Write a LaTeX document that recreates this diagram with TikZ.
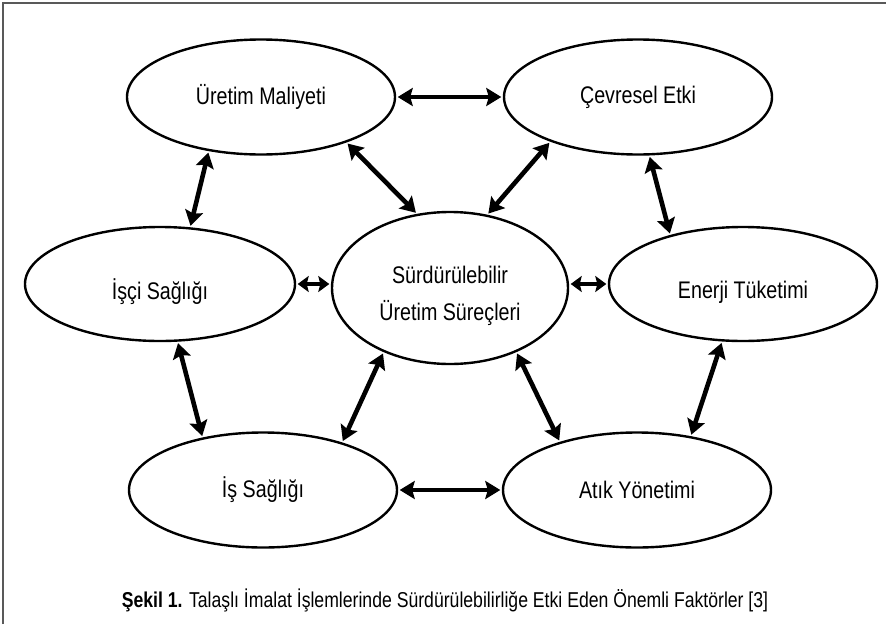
\documentclass[tikz,border=0pt]{standalone}
\usepackage{fontspec}
\setmainfont{Liberation Sans}[FakeStretch=0.82]
\usetikzlibrary{shapes.geometric,arrows.meta}
\begin{document}
\begin{tikzpicture}[x=1pt,y=-1pt,
  ell/.style={ellipse, draw, line width=2.4pt, inner sep=0pt, align=center,
    font=\fontsize{24}{37}\selectfont},
  arr/.style={line width=4.6pt,
    {Stealth[length=15pt,width=18pt,inset=2.5pt]}-{Stealth[length=15pt,width=18pt,inset=2.5pt]},
    shorten <=1.5pt, shorten >=1.5pt},
  sarr/.style={line width=4.6pt,
    {Stealth[length=11pt,width=16pt,inset=2pt]}-{Stealth[length=11pt,width=16pt,inset=2pt]},
    shorten <=1.5pt, shorten >=1.5pt}]
\useasboundingbox (0,0) rectangle (886,624);
\draw[black!65, line width=1.4pt] (3,624) -- (3,3) -- (886,3);

\node[ell, minimum width=268pt, minimum height=115pt] (UM) at (261,97) {Üretim Maliyeti};
\node[ell, minimum width=268pt, minimum height=115pt] (CE) at (638,97) {Çevresel Etki};
\node[ell, minimum width=270pt, minimum height=114pt] (IS) at (160,284) {\rule{0pt}{36pt}İşçi Sağlığı};
\node[ell, minimum width=236pt, minimum height=152pt] (SU) at (450,288) {\rule{0pt}{33pt}Sürdürülebilir\\Üretim Süreçleri};
\node[ell, minimum width=268pt, minimum height=114pt] (ET) at (743,284) {\rule{0pt}{34pt}Enerji Tüketimi};
\node[ell, minimum width=268pt, minimum height=115pt] (IH) at (263,490) {İş Sağlığı};
\node[ell, minimum width=268pt, minimum height=115pt] (AY) at (637,490) {Atık Yönetimi};

\node[font=\fontsize{21.5}{26}\selectfont] (cap) at (445,600)
  {\textbf{Şekil 1.} Talaşlı İmalat İşlemlerinde Sürdürülebilirliğe Etki Eden Önemli Faktörler [3]};

\draw[arr] (UM.east) -- (CE.west);
\draw[arr] (IH.east) -- (AY.west);
\draw[sarr] (IS.east) -- (IS.east -| SU.west);
\draw[sarr] (SU.east |- ET.west) -- (ET.west);
\draw[arr] (UM.226) -- (IS.62);
\draw[arr] (UM.-28) -- (SU.114);
\draw[arr] (CE.207) -- (SU.63);
\draw[arr] (CE.-79) -- (ET.146);
\draw[arr] (IS.-73) -- (IH.139);
\draw[arr] (SU.224) -- (IH.31);
\draw[arr] (SU.-44) -- (AY.148);
\draw[arr] (ET.250) -- (AY.45);
\end{tikzpicture}
\end{document}
